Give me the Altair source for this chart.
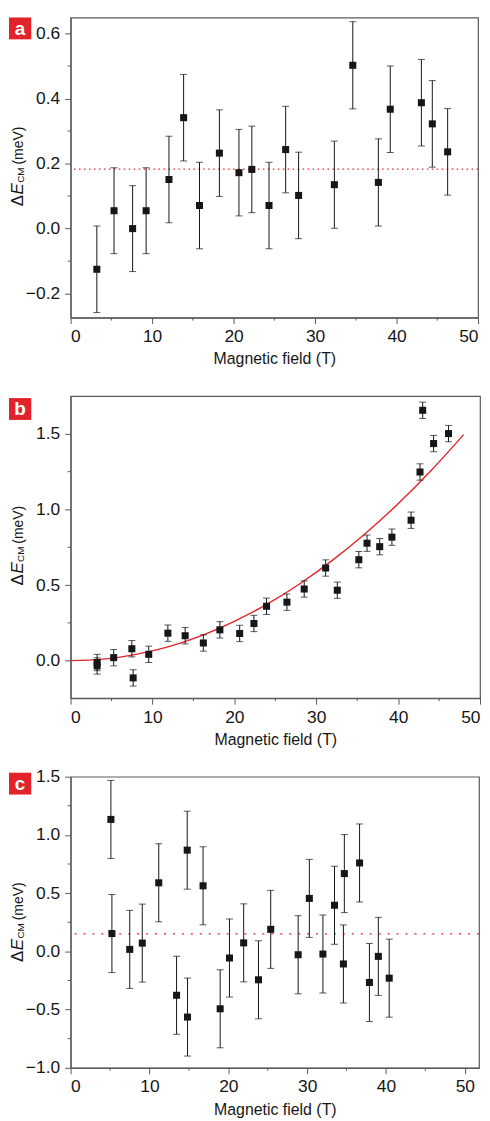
import altair as alt
import pandas as pd

# ---------------- data ----------------
# Panel a
a_field = [3.22, 5.33, 7.61, 9.27, 12.07, 13.87, 15.82, 18.26, 20.66, 22.24,
           24.35, 26.39, 27.98, 32.37, 34.63, 37.77, 39.23, 43.05, 44.39, 46.27]
a_dE = [-0.125, 0.055, 0.0, 0.055, 0.151, 0.341, 0.071, 0.232, 0.172, 0.182,
        0.071, 0.243, 0.102, 0.135, 0.502, 0.142, 0.367, 0.387, 0.322, 0.236]
a_err = [0.133, 0.132, 0.132, 0.132, 0.133, 0.133, 0.133, 0.133, 0.133, 0.133,
         0.133, 0.133, 0.133, 0.134, 0.134, 0.134, 0.133, 0.133, 0.133, 0.133]
a_mean = 0.183

# Panel b
b_field = [3.24, 3.24, 5.26, 7.48, 7.64, 9.54, 11.88, 13.99, 16.21, 18.23, 20.65,
           22.39, 23.93, 26.42, 28.53, 31.15, 32.57, 35.2, 36.2, 37.75, 39.24,
           41.58, 42.67, 43.0, 44.33, 46.15]
b_dE = [-0.012, -0.035, 0.02, 0.079, -0.114, 0.042, 0.182, 0.165, 0.117, 0.204, 0.18,
        0.246, 0.36, 0.387, 0.474, 0.613, 0.466, 0.668, 0.777, 0.754, 0.817,
        0.929, 1.248, 1.656, 1.436, 1.502]
b_err = [0.054] * 26
b_fit_field = [0, 4, 8, 12, 16, 20, 24, 28, 32, 36, 40, 44, 48]
b_fit_dE = [0.0, 0.010, 0.042, 0.093, 0.166, 0.26, 0.374, 0.509, 0.665, 0.841,
            1.038, 1.256, 1.495]

# Panel c
c_field = [5.11, 5.24, 7.5, 9.09, 11.18, 13.44, 14.79, 14.83, 16.8, 18.97, 20.15,
           21.95, 23.83, 25.38, 28.86, 30.28, 32.0, 33.47, 34.72, 34.6, 36.65,
           37.9, 39.03, 40.41]
c_dE = [1.133, 0.153, 0.017, 0.071, 0.589, -0.377, 0.869, -0.564, 0.563, -0.493, -0.057,
        0.073, -0.244, 0.189, -0.029, 0.455, -0.023, 0.396, 0.668, -0.108, 0.759,
        -0.267, -0.043, -0.23]
c_err = [0.335] * 24
c_mean = 0.15

x_major = [0, 10, 20, 30, 40, 50]
x_minor = [5, 15, 25, 35, 45]
a_ymajor = [-0.2, 0.0, 0.2, 0.4, 0.6]
a_yminor = [-0.1, 0.1, 0.3, 0.5]
b_ymajor = [0.0, 0.5, 1.0, 1.5]
b_yminor = [0.25, 0.75, 1.25]
c_ymajor = [-1.0, -0.5, 0.0, 0.5, 1.0, 1.5]
c_yminor = [-0.75, -0.25, 0.25, 0.75, 1.25]

RED = "#e3232b"
INK = "#161616"
FRAME = "#5a5a5a"
FONT = "Liberation Sans, Arial, sans-serif"


def panel(letter, field, dE, err, xdom, ydom, w, h, ymajor, yminor,
          box_y, title_shift, extra=None, mean=None, dash=(1.5, 3.5)):
    df = pd.DataFrame({"B": field, "E": dE,
                       "lo": [v - e for v, e in zip(dE, err)],
                       "hi": [v + e for v, e in zip(dE, err)]})
    xs = alt.Scale(domain=xdom, nice=False, zero=False)
    ys = alt.Scale(domain=ydom, nice=False, zero=False)
    xaxis = alt.Axis(values=x_major, format="d", title="Magnetic field (T)",
                     tickSize=6, labelPadding=4, titlePadding=6, grid=False)
    yaxis = alt.Axis(values=ymajor, format=".1f", title=None,
                     tickSize=6, labelPadding=5, grid=False)

    def X(f):
        return alt.X(f, type="quantitative", scale=xs, axis=xaxis)

    def Y(f):
        return alt.Y(f, type="quantitative", scale=ys, axis=yaxis)

    base = alt.Chart(df)
    layers = []
    if mean is not None:
        layers.append(alt.Chart(pd.DataFrame({"E": [mean]})).mark_rule(
            color=RED, strokeWidth=1.3, strokeDash=list(dash)).encode(y=Y("E")))
    if extra is not None:
        fx, fy = extra
        layers.append(alt.Chart(pd.DataFrame({"B": fx, "E": fy})).mark_line(
            color=RED, strokeWidth=1.4, interpolate="monotone").encode(x=X("B"), y=Y("E")))
    layers.append(base.mark_rule(color=INK, strokeWidth=1).encode(x=X("B"), y=Y("lo"), y2="hi:Q"))
    layers.append(base.mark_tick(color=INK, orient="horizontal", size=7, thickness=1).encode(x=X("B"), y=Y("lo")))
    layers.append(base.mark_tick(color=INK, orient="horizontal", size=7, thickness=1).encode(x=X("B"), y=Y("hi")))
    layers.append(base.mark_square(color=INK, size=50, opacity=1).encode(x=X("B"), y=Y("E")))
    # minor ticks (outward, shorter)
    layers.append(alt.Chart(pd.DataFrame({"B": x_minor})).mark_rule(color=FRAME, strokeWidth=1).encode(
        x=X("B"), y=alt.value(h), y2=alt.value(h + 3)))
    layers.append(alt.Chart(pd.DataFrame({"E": yminor})).mark_rule(color=FRAME, strokeWidth=1).encode(
        y=Y("E"), x=alt.value(0), x2=alt.value(-3)))
    # panel letter box
    layers.append(alt.Chart(pd.DataFrame({"t": [letter]})).mark_rect(color=RED).encode(
        x=alt.value(-62), x2=alt.value(-39.6), y=alt.value(box_y), y2=alt.value(box_y + 22)))
    layers.append(alt.Chart(pd.DataFrame({"t": [letter]})).mark_text(
        color="white", font=FONT, fontWeight="bold", fontSize=19, align="center", baseline="middle").encode(
        text="t:N", x=alt.value(-50.8), y=alt.value(box_y + 11.5)))
    # y-axis title: ΔE_CM (meV), built from pieces, reading bottom to top
    start = h / 2 + title_shift + 40
    pieces = [("Δ", 17, "normal", 0, -48.3),
              ("E", 17, "italic", -11.9, -48.3),
              ("CM", 10, "normal", -23.6, -46.8),
              ("(meV)", 14, "normal", -42.0, -48.3)]
    for txt, fs, style, dy, xb in pieces:
        layers.append(alt.Chart(pd.DataFrame({"t": [txt]})).mark_text(
            angle=270, align="left", baseline="alphabetic", font=FONT, fontSize=fs,
            fontStyle=style, color=INK).encode(
            text="t:N", x=alt.value(xb), y=alt.value(start + dy)))
    return alt.layer(*layers).properties(width=w, height=h)


pa = panel("a", a_field, a_dE, a_err, [0, 50], [-0.2735, 0.649], 410, 302,
           a_ymajor, a_yminor, 0, -1, mean=a_mean, dash=(1.5, 3.5))
pb = panel("b", b_field, b_dE, b_err, [0, 50], [-0.248, 1.75], 412, 304,
           b_ymajor, b_yminor, 2, -1.5, extra=(b_fit_field, b_fit_dE))
pc = panel("c", c_field, c_dE, c_err, [0, 51.8], [-1.0, 1.5], 411, 293,
           c_ymajor, c_yminor, -4, 0, mean=c_mean, dash=(2, 7))

chart = alt.vconcat(pa, pb, pc, spacing=79, bounds="flush").properties(
    padding={"left": 0, "top": 5, "right": 0, "bottom": 5}
).configure_view(stroke=FRAME, strokeWidth=1.2).configure_axis(
    domainColor=FRAME, domainWidth=1.2, tickColor=FRAME, tickWidth=1,
    labelFont=FONT, labelFontSize=17.5, labelColor=INK,
    titleFont=FONT, titleFontSize=16, titleFontWeight="normal", titleColor=INK
)

chart.save("out.html", embed_options={"renderer": "svg", "actions": False})
